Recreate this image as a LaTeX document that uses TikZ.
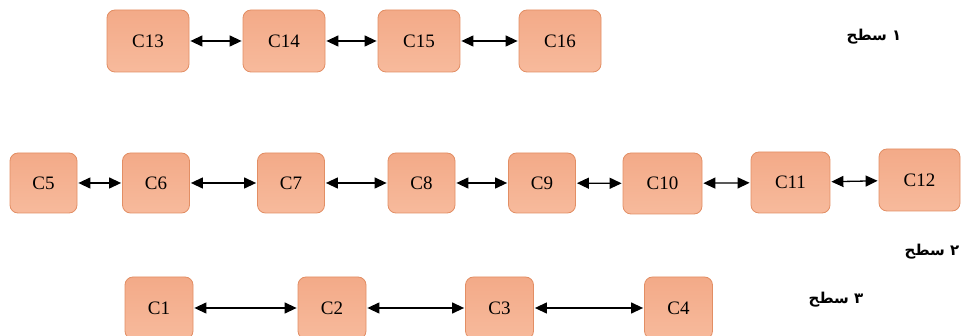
\documentclass[tikz,border=0pt]{standalone}
\usepackage{fontspec}
\setmainfont{Liberation Serif}
\newfontfamily\arabicfont[Script=Arabic]{DejaVu Sans}
\usetikzlibrary{arrows.meta}
\TeXXeTstate=1
\definecolor{boxtop}{RGB}{243,170,136}
\definecolor{boxbot}{RGB}{247,186,156}
\definecolor{boxdraw}{RGB}{226,142,100}
\begin{document}
\begin{tikzpicture}[x=1pt,y=-1pt,
  cbox/.style={draw=boxdraw, top color=boxtop, bottom color=boxbot, rounded corners=8pt, line width=0.8pt,
    font=\fontsize{19}{22}\selectfont, inner sep=0pt, minimum height=62pt},
  wide/.style={minimum width=82pt},
  mid/.style={minimum width=67pt, minimum height=60pt},
  midw/.style={minimum width=79pt, minimum height=61pt},
  low/.style={minimum width=68pt},
  link/.style={{Triangle[length=12pt,width=11pt]}-{Triangle[length=12pt,width=11pt]}, line width=1.3pt, black, shorten <=1pt, shorten >=1pt},
  lvl/.style={font=\arabicfont\bfseries\fontsize{15}{18}\selectfont, inner sep=0pt}]
\useasboundingbox (0,0) rectangle (963,336);
\clip (0,0) rectangle (963,336);
% top row
\node[cbox, wide] (c13) at (148,41) {C13};
\node[cbox, wide] (c14) at (284,41) {C14};
\node[cbox, wide] (c15) at (419,41) {C15};
\node[cbox, wide] (c16) at (560,41) {C16};
% middle row
\node[cbox, mid] (c5) at (43.5,183) {C5};
\node[cbox, mid] (c6) at (156,183) {C6};
\node[cbox, mid] (c7) at (291,183) {C7};
\node[cbox, mid] (c8) at (421.5,183) {C8};
\node[cbox, mid] (c9) at (542,183) {C9};
\node[cbox, midw] (c10) at (662.5,183.5) {C10};
\node[cbox, midw] (c11) at (790.5,182.5) {C11};
\node[cbox, minimum width=81pt] (c12) at (919.5,180) {C12};
% bottom row
\node[cbox, low] (c1) at (159,308) {C1};
\node[cbox, low] (c2) at (332,308) {C2};
\node[cbox, low] (c3) at (499.5,308) {C3};
\node[cbox, low] (c4) at (678.5,308) {C4};
% links
\draw[link] (c13) -- (c14);
\draw[link] (c14) -- (c15);
\draw[link] (c15) -- (c16);
\draw[link] (c5) -- (c6);
\draw[link] (c6) -- (c7);
\draw[link] (c7) -- (c8);
\draw[link] (c8) -- (c9);
\draw[link] (c9) -- (c10);
\draw[link] (c10) -- (c11);
\draw[link] (c11) -- (c12);
\draw[link] (c1) -- (c2);
\draw[link] (c2) -- (c3);
\draw[link] (c3) -- (c4);
% level labels
\node[lvl] (l1) at (874,37) {\beginR ۱ سطح\endR};
\node[lvl] (l2) at (932,252) {\beginR ۲ سطح\endR};
\node[lvl] (l3) at (836,300) {\beginR ۳ سطح\endR};
\end{tikzpicture}
\end{document}
